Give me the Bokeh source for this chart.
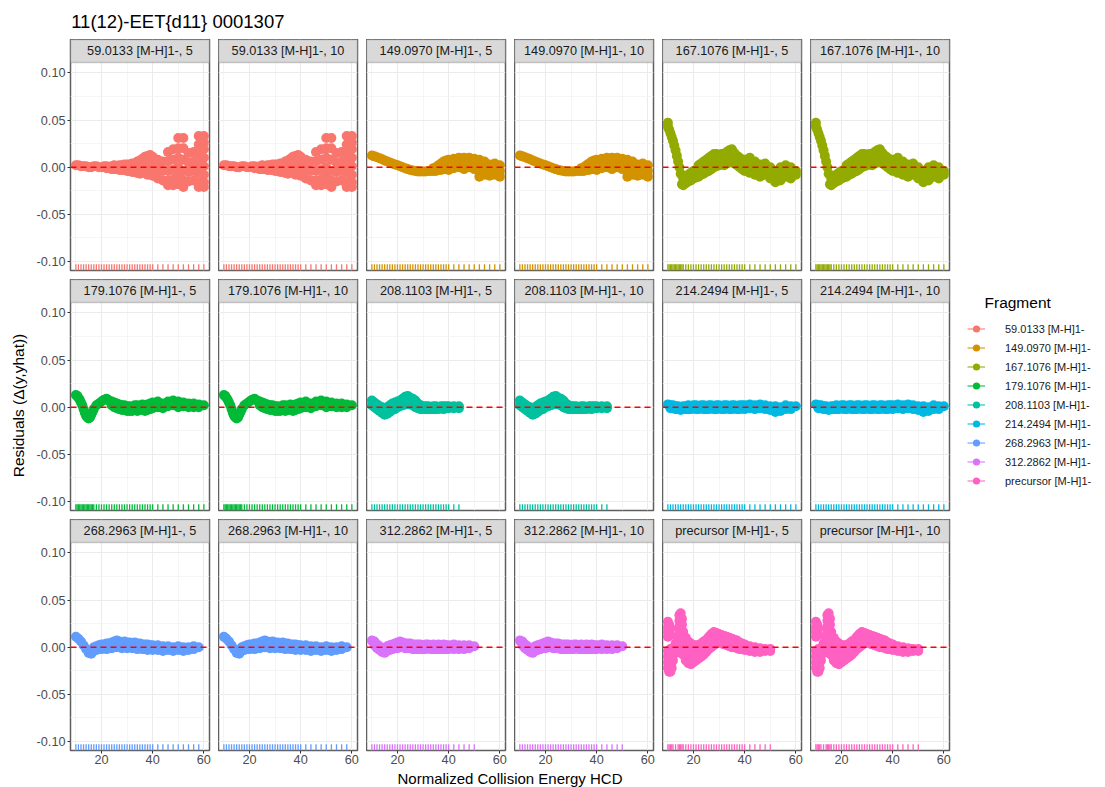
import math
from bokeh.plotting import figure
from bokeh.layouts import row, column
from bokeh.models import (Range1d, FixedTicker, LinearAxis, NumeralTickFormatter,
                          BoxAnnotation, Label, Span, Legend, LegendItem, ColumnDataSource)
from bokeh.core.properties import value
from bokeh.embed import file_html
from bokeh.resources import INLINE

# ---------------- data ----------------
title_text = "11(12)-EET{d11} 0001307"
x_title = "Normalized Collision Energy HCD"
y_title = "Residuals (\u0394(y,yhat))"
legend_title = "Fragment"

fragments = ["59.0133", "149.0970", "167.1076", "179.1076", "208.1103",
             "214.2494", "268.2963", "312.2862", "precursor"]
ion_type = "[M-H]1-"
energies = ["5", "10"]
colors = ["#F8766D", "#D39200", "#93AA00", "#00BA38", "#00C19F",
          "#00B9E3", "#619CFF", "#DB72FB", "#FF61C3"]

x_ticks = [20, 40, 60]
x_minor = [10, 30, 50]
y_ticks = [-0.10, -0.05, 0.0, 0.05, 0.10]
y_minor = [-0.075, -0.025, 0.025, 0.075]
zero_line = 0.0

# residuals per fragment: (collision energy, [residuals at that energy])
res_59_0133 = [
    (10, [0.002]), (11, [0.002]), (12, [0.001]), (13, [0.001]), (14, [0.001]),
    (15, [0.000]), (16, [0.000]), (17, [0.001]), (18, [0.001]), (19, [0.000]),
    (20, [0.000]), (21, [0.001]), (22, [0.001, -0.001]), (23, [0.000, -0.001]),
    (24, [0.001, -0.002]), (25, [0.002, -0.002]), (26, [0.001, -0.002]),
    (27, [0.002, -0.003]), (28, [0.002, -0.003]), (29, [0.003, -0.003]),
    (30, [0.003, -0.004]), (31, [0.003, -0.004]), (32, [0.004, -0.005]),
    (33, [0.004, -0.005]), (34, [0.006, -0.006]), (35, [0.007, -0.007]),
    (36, [0.009, 0.001, -0.006]), (37, [0.011, 0.003, -0.005]),
    (38, [0.012, 0.004, -0.008]), (39, [0.013, 0.005, -0.006]),
    (40, [0.011, 0.002, -0.009]),
    (42, [0.008, -0.002, -0.012]), (44, [0.006, -0.004, -0.014]),
    (46, [0.016, 0.006, -0.004, -0.014, -0.019]),
    (48, [0.019, 0.008, -0.003, -0.013, -0.019]),
    (50, [0.031, 0.020, 0.010, 0.000, -0.010, -0.018]),
    (52, [0.031, 0.020, 0.008, -0.004, -0.014, -0.021]),
    (54, [0.015, 0.005, -0.005, -0.015]),
    (56, [0.016, 0.006, -0.004, -0.014]),
    (58, [0.033, 0.024, 0.014, 0.004, -0.006, -0.016, -0.021]),
    (60, [0.033, 0.026, 0.019, 0.010, 0.001, -0.008, -0.016, -0.021]),
]

res_149_0970 = [
    (10, [0.0125]), (11, [0.0115]), (12, [0.0105]), (13, [0.0095]), (14, [0.0085]),
    (15, [0.0072]), (16, [0.006]), (17, [0.005]), (18, [0.004]), (19, [0.003]),
    (20, [0.002]), (21, [0.001]), (22, [0.000]), (23, [-0.001]), (24, [-0.002]),
    (25, [-0.003]), (26, [-0.0035]), (27, [-0.004]), (28, [-0.0045]), (29, [-0.0045]),
    (30, [-0.0045]), (31, [-0.0045]), (32, [-0.004]), (33, [-0.004]),
    (34, [-0.004, -0.001]), (35, [-0.004, 0.000]), (36, [-0.003, 0.002]),
    (37, [-0.003, 0.004]), (38, [-0.002, 0.006]), (39, [-0.002, 0.007]),
    (40, [-0.003, 0.008]),
    (42, [-0.001, 0.006, 0.009]), (44, [0.000, 0.005, 0.010]),
    (46, [-0.002, 0.004, 0.010]), (48, [0.000, 0.006, 0.010]),
    (50, [-0.002, 0.004, 0.009]), (52, [-0.010, -0.004, 0.003, 0.008]),
    (54, [-0.008, -0.002, 0.006]), (56, [-0.009, -0.003, 0.003]),
    (58, [-0.008, -0.002, 0.004]), (60, [-0.010, -0.004, 0.002]),
]

res_167_1076 = [
    (10, [0.047, 0.043]), (10.5, [0.040]), (11, [0.036]), (11.5, [0.032]),
    (12, [0.028]), (12.5, [0.023]), (13, [0.018]), (13.5, [0.012]),
    (14, [0.006]), (14.5, [0.000]), (15, [-0.007]), (15.5, [-0.018]),
    (16, [-0.019, -0.012]), (17, [-0.017, -0.010]), (18, [-0.015, -0.008]),
    (19, [-0.014, -0.006]), (20, [-0.012, -0.004]), (21, [-0.011, -0.003]),
    (22, [-0.010, -0.002, 0.002]), (23, [-0.008, -0.001, 0.004]),
    (24, [-0.007, 0.000, 0.006]), (25, [-0.005, 0.002, 0.008]),
    (26, [-0.004, 0.004, 0.010]), (27, [-0.002, 0.006, 0.012]),
    (28, [0.000, 0.007, 0.014]), (29, [0.001, 0.008, 0.014]),
    (30, [0.002, 0.009, 0.013]), (31, [0.003, 0.010, 0.014]),
    (32, [0.002, 0.008, 0.014]), (33, [0.004, 0.010, 0.016]),
    (34, [0.005, 0.012, 0.018]), (35, [0.006, 0.013, 0.019]),
    (36, [0.004, 0.010, 0.015]), (37, [0.002, 0.008, 0.012]),
    (38, [0.000, 0.006, 0.010]), (39, [-0.002, 0.004, 0.008]),
    (40, [-0.004, 0.002, 0.008]),
    (42, [-0.006, 0.000, 0.010]), (44, [-0.008, -0.002, 0.006]),
    (46, [-0.010, -0.003, 0.003]), (48, [-0.008, -0.002, 0.004]),
    (50, [-0.012, -0.006, 0.000]), (52, [-0.016, -0.010, -0.004]),
    (54, [-0.014, -0.008, 0.000]), (56, [-0.010, -0.004, 0.002]),
    (58, [-0.012, -0.006, 0.000]), (60, [-0.008, -0.004]),
]

res_179_1076 = [
    (10, [0.013]), (10.5, [0.012]), (11, [0.010]), (11.5, [0.008]), (12, [0.005]),
    (12.5, [0.002]), (13, [-0.002]), (13.5, [-0.006]), (14, [-0.009]),
    (14.5, [-0.011]), (15, [-0.012]), (15.5, [-0.011]), (16, [-0.008]),
    (16.5, [-0.005]), (17, [-0.002]), (18, [0.002]), (19, [0.004]), (20, [0.006]),
    (21, [0.008]), (22, [0.009]), (23, [0.007]), (24, [0.006, 0.002]),
    (25, [0.005, 0.000]), (26, [0.004, -0.001]), (27, [0.003, -0.002]),
    (28, [0.002, -0.003]), (29, [0.002, -0.003]), (30, [0.001, -0.004]),
    (31, [0.001, -0.004]), (32, [0.000, -0.004]), (33, [0.002, -0.003]),
    (34, [0.002, -0.004]), (35, [0.001, -0.003]), (36, [0.003, -0.002]),
    (37, [0.002, -0.004]), (38, [0.003, -0.003]), (39, [0.004, -0.002]),
    (40, [0.005, -0.001]),
    (42, [0.006, 0.000]), (44, [0.004, -0.001]), (46, [0.006, 0.001]),
    (48, [0.007, 0.002]), (50, [0.006, 0.000]), (52, [0.005, 0.001]),
    (54, [0.004, 0.000]), (56, [0.004, 0.000]), (58, [0.003, 0.000]),
    (60, [0.002]),
]

res_208_1103 = [
    (10, [0.007, 0.002]), (11, [0.005, 0.000]), (12, [0.003, -0.002]),
    (13, [0.001, -0.004]), (14, [0.000, -0.006]), (15, [-0.002, -0.008]),
    (16, [0.000, -0.007]), (17, [0.002, -0.005]), (18, [0.004, -0.003]),
    (19, [0.005, -0.002]), (20, [0.006, 0.000]), (21, [0.007, 0.001]),
    (22, [0.009, 0.002]), (23, [0.011, 0.003]), (24, [0.012, 0.004]),
    (25, [0.010, 0.003]), (26, [0.009, 0.002]), (27, [0.007, 0.000]),
    (28, [0.004, -0.001]), (29, [0.002, -0.002]), (30, [0.001, -0.002]),
    (31, [0.001, -0.002]), (32, [0.001, -0.002]), (33, [0.000, -0.002]),
    (34, [0.001, -0.002]), (35, [0.001, -0.002]), (36, [0.000, -0.002]),
    (37, [0.001, -0.001]), (38, [0.001, -0.002]), (39, [0.001, -0.001]),
    (40, [0.001, -0.001]), (42, [0.001, -0.001]), (44, [0.001, -0.001]),
]

res_214_2494 = [
    (10, [0.003]), (11, [0.002, -0.001]), (12, [0.002, -0.001]), (13, [0.001, -0.002]),
    (14, [0.001, -0.002]), (15, [0.000, -0.003]), (16, [0.001, -0.002]),
    (17, [0.001, -0.002]), (18, [0.002, -0.002]), (19, [0.001, -0.002]),
    (20, [0.002, -0.001]), (21, [0.002, -0.002]), (22, [0.001, -0.002]),
    (23, [0.002, -0.001]), (24, [0.002, -0.002]), (25, [0.001, -0.002]),
    (26, [0.002, -0.002]), (27, [0.002, -0.001]), (28, [0.001, -0.002]),
    (29, [0.002, -0.002]), (30, [0.002, -0.001]), (31, [0.001, -0.002]),
    (32, [0.002, -0.002]), (33, [0.002, -0.001]), (34, [0.001, -0.002]),
    (35, [0.002, -0.002]), (36, [0.002, -0.001]), (37, [0.001, -0.002]),
    (38, [0.002, -0.002]), (39, [0.002, -0.001]), (40, [0.002, -0.002]),
    (42, [0.003, -0.001]), (44, [0.002, -0.002]), (46, [0.003, -0.001]),
    (48, [0.002, -0.002]), (50, [0.001, -0.003]), (52, [0.001, -0.003, -0.005]),
    (54, [0.000, -0.004]), (56, [0.002, -0.002]), (58, [0.001, -0.002]),
    (60, [0.001]),
]

res_268_2963 = [
    (10, [0.011]), (11, [0.009]), (12, [0.006]), (13, [0.002]), (14, [-0.002]),
    (15, [-0.006]), (16, [-0.007, -0.004]), (17, [-0.004, 0.000]),
    (18, [-0.003, 0.001]), (19, [-0.002, 0.002]), (20, [-0.002, 0.003]),
    (21, [-0.001, 0.003]), (22, [-0.002, 0.004]), (23, [-0.001, 0.004]),
    (24, [-0.001, 0.005]), (25, [0.000, 0.006]), (26, [0.000, 0.007]),
    (27, [0.000, 0.006]), (28, [-0.001, 0.005]), (29, [0.000, 0.006]),
    (30, [-0.001, 0.005]), (31, [0.000, 0.005]), (32, [-0.001, 0.004]),
    (33, [-0.001, 0.005]), (34, [-0.002, 0.004]), (35, [-0.001, 0.004]),
    (36, [-0.002, 0.003]), (37, [-0.002, 0.003]), (38, [-0.003, 0.003]),
    (39, [-0.002, 0.002]), (40, [-0.003, 0.002]),
    (42, [-0.003, 0.002]), (44, [-0.004, 0.001]), (46, [-0.003, 0.001]),
    (48, [-0.004, 0.000]), (50, [-0.003, 0.001]), (52, [-0.004, 0.000]),
    (54, [-0.003, 0.000]), (56, [-0.002, 0.001]), (58, [0.000]),
]

res_312_2862 = [
    (10, [0.007]), (11, [0.006, 0.002]), (12, [0.003, -0.001]), (13, [0.001, -0.003]),
    (14, [-0.001, -0.005]), (15, [-0.001, -0.006]), (16, [0.001, -0.004]),
    (17, [0.002, -0.003]), (18, [0.003, -0.002]), (19, [0.004, -0.001]),
    (20, [0.005, -0.001]), (21, [0.006, 0.000]), (22, [0.005, 0.000]),
    (23, [0.004, -0.001]), (24, [0.004, -0.001]), (25, [0.004, -0.001]),
    (26, [0.003, -0.002]), (27, [0.003, -0.002]), (28, [0.003, -0.002]),
    (29, [0.003, -0.002]), (30, [0.002, -0.002]), (31, [0.003, -0.002]),
    (32, [0.003, -0.001]), (33, [0.002, -0.002]), (34, [0.003, -0.002]),
    (35, [0.002, -0.002]), (36, [0.003, -0.002]), (37, [0.002, -0.002]),
    (38, [0.003, -0.002]), (39, [0.002, -0.002]), (40, [0.002, -0.002]),
    (42, [0.003, -0.002]), (44, [0.002, -0.002]), (46, [0.002, -0.002]),
    (48, [0.002, -0.001]), (50, [0.001]),
]

res_precursor = [
    (10, [0.027, 0.021, 0.016, 0.011, -0.004, -0.010, -0.016, -0.022]),
    (10.5, [0.024, 0.018, -0.006, -0.013, -0.019, -0.026]),
    (11, [0.020, 0.013, -0.002, -0.008, -0.014, -0.020, -0.026]),
    (11.5, [-0.004, -0.010, -0.016, -0.022]),
    (12, [-0.002, -0.008, -0.014]),
    (13, [0.004, -0.002, -0.006]),
    (14, [0.010, 0.004]),
    (14.5, [0.034, 0.028, 0.022, 0.016, 0.010]),
    (15, [0.036, 0.030, 0.024, 0.018, 0.012, 0.006, 0.000, -0.006]),
    (15.5, [0.030, 0.024, 0.018, 0.012, 0.006, 0.000]),
    (16, [0.016, 0.010, 0.004, -0.002, -0.008]),
    (17, [0.010, 0.004, -0.002, -0.008, -0.014]),
    (18, [0.006, 0.000, -0.006, -0.012, -0.017]),
    (19, [0.004, -0.002, -0.008, -0.014, -0.018]),
    (20, [0.002, -0.004, -0.010, -0.016]),
    (21, [0.002, -0.003, -0.008, -0.014]),
    (22, [0.002, -0.002, -0.007, -0.012]),
    (23, [0.004, 0.000, -0.005, -0.010]),
    (24, [0.006, 0.002, -0.003, -0.008]),
    (25, [0.008, 0.004, 0.000, -0.005]),
    (26, [0.011, 0.006, 0.002, -0.002]),
    (27, [0.014, 0.009, 0.004, 0.000]),
    (28, [0.016, 0.011, 0.006, 0.002]),
    (29, [0.015, 0.010, 0.005]), (30, [0.014, 0.010, 0.005]),
    (31, [0.013, 0.009, 0.004]), (32, [0.012, 0.008, 0.003]),
    (33, [0.011, 0.007, 0.002]), (34, [0.010, 0.006, 0.001]),
    (35, [0.009, 0.005, 0.000]), (36, [0.008, 0.004, 0.000]),
    (37, [0.007, 0.003, -0.001]), (38, [0.005, 0.002, -0.002]),
    (39, [0.004, 0.000, -0.002]), (40, [0.003, -0.001, -0.003]),
    (42, [0.001, -0.002, -0.004]), (44, [0.000, -0.003, -0.005]),
    (46, [-0.001, -0.004, -0.005]), (48, [-0.002, -0.004]),
    (50, [-0.002, -0.004]),
]

residuals = [res_59_0133, res_149_0970, res_167_1076, res_179_1076, res_208_1103,
             res_214_2494, res_268_2963, res_312_2862, res_precursor]

# ---------------- layout constants (page has no extra margin) ----------------
FONT = "Liberation Sans"
FRAME_W, PLOT_H, STRIP_H = 139, 208, 23
GAP_X, GAP_Y = 9, 9
YLAB_W, AXIS_W, AXIS_H = 30, 40, 20
HEADER_H, LEGEND_W = 39, 139
N_COLS = 6
ROWS_H = 2 * (PLOT_H + STRIP_H + GAP_Y) + (PLOT_H + STRIP_H + AXIS_H)
FOOTER_H = 787 - HEADER_H - ROWS_H
GRID_W = AXIS_W + N_COLS * (FRAME_W + GAP_X)
TOTAL_W = YLAB_W + GRID_W + LEGEND_W
LEG_TITLE_H = 280

X_LO, X_HI = 7.9, 62.2
Y_LO, Y_HI = -0.1095, 0.111
Y_TOP = Y_HI + (Y_HI - Y_LO) * STRIP_H / PLOT_H
RUG_FRAC = 0.03

BORDER = "#5f5f5f"
TICK_COL = "#4D4D4D"


def unpack(res):
    xs, ys = [], []
    for x, yl in res:
        for y in yl:
            xs.append(x)
            ys.append(y)
    return xs, ys


def style_axis(ax, standoff):
    ax.axis_line_color = None
    ax.major_tick_line_color = "#333333"
    ax.major_tick_out = 3
    ax.major_tick_in = 0
    ax.minor_tick_line_color = None
    ax.major_label_standoff = standoff
    ax.major_label_text_font = FONT
    ax.major_label_text_font_size = "12.7px"
    ax.major_label_text_color = TICK_COL


def blank_fig(w, h, xr, yr):
    f = figure(frame_width=w, frame_height=h, x_range=xr, y_range=yr,
               x_axis_location=None, y_axis_location=None,
               toolbar_location=None, output_backend="svg")
    f.min_border_left = f.min_border_right = f.min_border_top = f.min_border_bottom = 0
    f.grid.visible = False
    f.outline_line_color = None
    return f


def make_panel(i):
    k, e = divmod(i, 2)
    r, c = divmod(i, N_COLS)
    col = colors[k]
    p = figure(frame_width=FRAME_W, frame_height=PLOT_H + STRIP_H,
               x_range=Range1d(X_LO, X_HI), y_range=Range1d(Y_LO, Y_TOP),
               x_axis_location=None, y_axis_location=None,
               toolbar_location=None, output_backend="svg")
    p.min_border_left = AXIS_W if c == 0 else 0
    p.min_border_right = GAP_X
    p.min_border_top = 0
    p.min_border_bottom = AXIS_H if r == 2 else GAP_Y
    p.outline_line_color = BORDER
    p.outline_line_width = 1.5
    p.xgrid.ticker = FixedTicker(ticks=x_ticks, minor_ticks=x_minor)
    p.ygrid.ticker = FixedTicker(ticks=y_ticks, minor_ticks=y_minor)
    p.grid.grid_line_color = "#EBEBEB"
    p.grid.grid_line_width = 1.1
    p.grid.minor_grid_line_color = "#F3F3F3"
    p.grid.minor_grid_line_width = 0.8

    xs, ys = unpack(residuals[k])
    src = ColumnDataSource(dict(x=xs, y=ys))
    p.scatter(x="x", y="y", source=src, size=10, fill_color=col, line_color=None)

    rug_x = [x for x, _ in residuals[k]]
    rug_len = RUG_FRAC * (Y_HI - Y_LO)
    rsrc = ColumnDataSource(dict(x=rug_x))
    p.segment(x0="x", y0=Y_LO, x1="x", y1=Y_LO + rug_len, source=rsrc,
              line_color=col, line_width=1.3)

    p.add_layout(Span(location=zero_line, dimension="width", line_color="#FF0000",
                      line_dash="6 4", line_width=1.6))

    p.add_layout(BoxAnnotation(bottom=Y_HI, fill_color="#D9D9D9", fill_alpha=1.0,
                               line_color=BORDER, line_width=1.5))
    p.add_layout(Label(x=(X_LO + X_HI) / 2, y=(Y_HI + Y_TOP) / 2,
                       text=f"{fragments[k]} {ion_type}, {energies[e]}",
                       text_align="center", text_baseline="middle",
                       text_font=FONT, text_font_size="12.7px", text_color="#1A1A1A"))

    if c == 0:
        ya = LinearAxis(ticker=FixedTicker(ticks=y_ticks),
                        formatter=NumeralTickFormatter(format="0.00"))
        style_axis(ya, 2)
        p.add_layout(ya, "left")
    if r == 2:
        xa = LinearAxis(ticker=FixedTicker(ticks=x_ticks))
        style_axis(xa, 1)
        p.add_layout(xa, "below")
    return p


panels = [make_panel(i) for i in range(18)]
grid = column(*[row(*panels[r * N_COLS:(r + 1) * N_COLS]) for r in range(3)])

# y-axis title
ylab = blank_fig(YLAB_W, ROWS_H, Range1d(0, YLAB_W), Range1d(0, ROWS_H))
ylab.text(x=[18], y=[ROWS_H - (405 - HEADER_H)], text=[y_title], angle=math.pi / 2,
          text_align="center", text_baseline="middle",
          text_font=value(FONT), text_font_size="15.5px", text_color="#000000")

# legend title area
leg_t = blank_fig(LEGEND_W, LEG_TITLE_H, Range1d(0, LEGEND_W), Range1d(0, LEG_TITLE_H))
leg_t.text(x=[17], y=[LEG_TITLE_H - (301.5 - HEADER_H)], text=[legend_title],
           text_align="left", text_baseline="middle",
           text_font=value(FONT), text_font_size="15.5px", text_color="#000000")

# legend (proxy renderers use the real data but lie outside this figure's ranges)
leg = blank_fig(LEGEND_W - 9, ROWS_H - LEG_TITLE_H, Range1d(-2, -1), Range1d(-2, -1))
leg.min_border_left = 9
items = []
for k, (name, col) in enumerate(zip(fragments, colors)):
    xs, ys = unpack(residuals[k])
    lr = leg.line(x=xs, y=ys, line_color=col, line_width=1.5, line_alpha=0.7)
    sr = leg.scatter(x=xs, y=ys, size=7, fill_color=col, line_color=None)
    items.append(LegendItem(label=f"{name} {ion_type}", renderers=[lr, sr]))
legend = Legend(items=items, location="top_left",
                label_text_font=FONT, label_text_font_size="11px",
                label_text_color="#1A1A1A",
                glyph_width=18, glyph_height=19, label_height=19,
                label_standoff=20, spacing=0, padding=0, margin=0,
                border_line_color=None, background_fill_alpha=0)
leg.add_layout(legend, "center")

# header / footer
header = blank_fig(TOTAL_W, HEADER_H, Range1d(0, TOTAL_W), Range1d(0, HEADER_H))
header.text(x=[70.7], y=[HEADER_H - 21.2], text=[title_text],
            text_align="left", text_baseline="middle",
            text_font=value(FONT), text_font_size="18.5px", text_color="#000000")

footer = blank_fig(TOTAL_W, FOOTER_H, Range1d(0, TOTAL_W), Range1d(0, FOOTER_H))
footer.text(x=[YLAB_W + AXIS_W + (N_COLS * (FRAME_W + GAP_X) - GAP_X) / 2],
            y=[FOOTER_H - 8], text=[x_title],
            text_align="center", text_baseline="middle",
            text_font=value(FONT), text_font_size="15px", text_color="#000000")

layout = column(header, row(ylab, grid, column(leg_t, leg)), footer)

open("out.html", "w").write(file_html(layout, INLINE))
